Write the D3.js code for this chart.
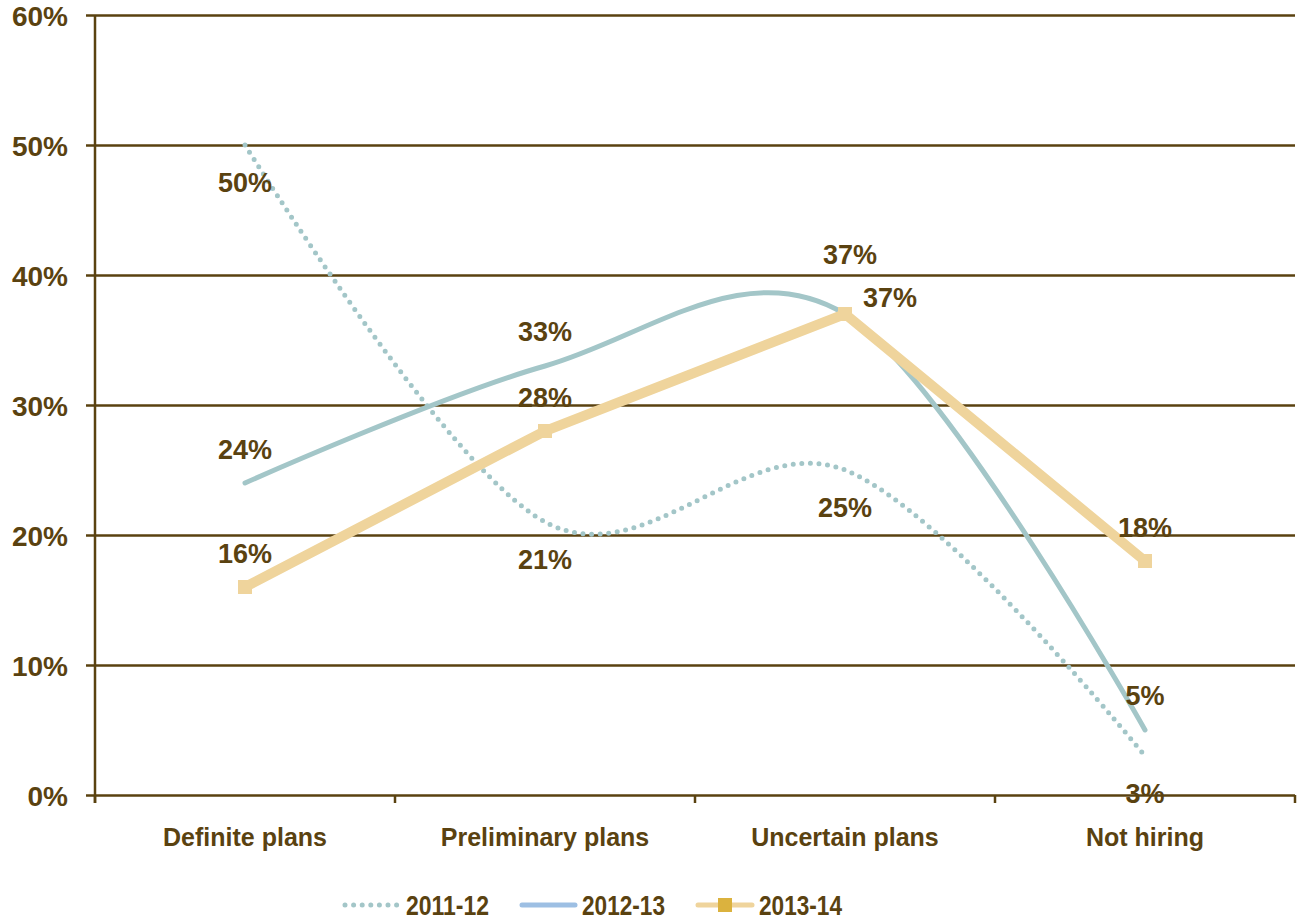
<!DOCTYPE html>
<html>
<head>
<meta charset="utf-8">
<script src="https://cdn.jsdelivr.net/npm/d3@7"></script>
<style>
  html, body { margin: 0; padding: 0; background: #fff; }
  svg text { font-family: "Liberation Sans", Arial, sans-serif; font-weight: bold; fill: #5a4210; }
</style>
</head>
<body>
<svg id="chart" width="1305" height="923"></svg>
<script>
// Hiring plans by year, share of respondents
const categories = ["Definite plans", "Preliminary plans", "Uncertain plans", "Not hiring"];
const s2011 = [0.50, 0.21, 0.25, 0.03];
const s2012 = [0.24, 0.33, 0.37, 0.05];
const s2013 = [0.16, 0.28, 0.37, 0.18];
const seriesNames = ["2011-12", "2012-13", "2013-14"];
const yTicks = [0, 0.1, 0.2, 0.3, 0.4, 0.5, 0.6];

// label placement per point: [dx, dy] relative to the point
const lab2011 = [[0, 37], [0, 37], [0, 37], [0, 37]];
const lab2012 = [[0, -34], [0, -35], [5, -60], [0, -35]];
const lab2013 = [[0, -34], [0, -34], [45, -17], [0, -34]];

const INK = "#5a4210";
const TEAL = "#a3c6c8";
const TAN = "#efd49c";

const svg = d3.select("#chart");
const mLeft = 95, mRight = 1295, mTop = 15, mBottom = 795;

const x = d3.scaleBand().domain(categories).range([mLeft, mRight]);
const y = d3.scaleLinear().domain([0, 0.6]).range([mBottom, mTop]);
const cx = d => x(d) + x.bandwidth() / 2;

// horizontal gridlines with short outward ticks
const yAxis = d3.axisLeft(y).tickValues(yTicks).tickFormat(d3.format(".0%"))
  .tickSize(-(mRight - mLeft)).tickPadding(27);
const gy = svg.append("g").attr("transform", `translate(${mLeft},0)`).call(yAxis);
gy.select(".domain").remove();
gy.selectAll(".tick line").attr("stroke", INK).attr("stroke-width", 2.5).attr("x1", -9);
gy.selectAll(".tick text").style("font-size", "28px").attr("dy", "0.36em");

// vertical axis line
svg.append("line").attr("x1", mLeft).attr("x2", mLeft).attr("y1", mTop).attr("y2", mBottom + 8)
  .attr("stroke", INK).attr("stroke-width", 2.5);

// category axis
const xAxis = d3.axisBottom(x).tickSize(0).tickPadding(0);
const gx = svg.append("g").attr("transform", `translate(0,${mBottom})`).call(xAxis);
gx.select(".domain").remove();
gx.selectAll(".tick text").style("font-size", "25px").attr("y", 0).attr("dy", "2.05em");

// category boundary ticks
const bounds = categories.map(c => x(c)).concat([mRight]);
svg.selectAll("line.xtick").data(bounds).join("line").attr("class", "xtick")
  .attr("x1", d => d).attr("x2", d => d).attr("y1", mBottom).attr("y2", mBottom + 8)
  .attr("stroke", INK).attr("stroke-width", 2.5);

const smooth = d3.line().x((d, i) => cx(categories[i])).y(d => y(d)).curve(d3.curveCatmullRom.alpha(0));
const straight = d3.line().x((d, i) => cx(categories[i])).y(d => y(d));

// 2011-12 dotted
svg.append("path").attr("d", smooth(s2011)).attr("fill", "none").attr("stroke", TEAL)
  .attr("stroke-width", 5).attr("stroke-linecap", "round").attr("stroke-dasharray", "0 8.6");
// 2012-13 solid
svg.append("path").attr("d", smooth(s2012)).attr("fill", "none").attr("stroke", TEAL)
  .attr("stroke-width", 5).attr("stroke-linecap", "round");
// 2013-14 thick with square markers
svg.append("path").attr("d", straight(s2013)).attr("fill", "none").attr("stroke", TAN)
  .attr("stroke-width", 10).attr("stroke-linejoin", "miter");
svg.selectAll("rect.m13").data(s2013).join("rect").attr("class", "m13")
  .attr("x", (d, i) => cx(categories[i]) - 7).attr("y", d => y(d) - 7)
  .attr("width", 14).attr("height", 14).attr("fill", TAN);

// value labels
function labels(vals, offs) {
  svg.append("g").selectAll("text").data(vals).join("text")
    .attr("x", (d, i) => cx(categories[i]) + offs[i][0])
    .attr("y", (d, i) => y(d) + offs[i][1])
    .attr("text-anchor", "middle").attr("dy", "0.36em")
    .style("font-size", "27px")
    .text(d => d3.format(".0%")(d));
}
labels(s2011, lab2011);
labels(s2012, lab2012);
labels(s2013, lab2013);

// legend
const leg = svg.append("g").attr("transform", "translate(0,905)");
leg.append("line").attr("x1", 345).attr("x2", 400).attr("stroke", TEAL).attr("stroke-width", 5)
  .attr("stroke-linecap", "round").attr("stroke-dasharray", "0 8.6");
leg.append("line").attr("x1", 522).attr("x2", 575).attr("stroke", "#9dbfe3").attr("stroke-width", 5)
  .attr("stroke-linecap", "round");
leg.append("line").attr("x1", 698).attr("x2", 752).attr("stroke", TAN).attr("stroke-width", 5)
  .attr("stroke-linecap", "round");
leg.append("rect").attr("x", 718).attr("y", -7).attr("width", 14).attr("height", 14).attr("fill", "#dbb23e");
const legX = [406, 582, 759];
leg.selectAll("text").data(seriesNames).join("text")
  .attr("x", (d, i) => legX[i]).attr("dy", "0.36em").style("font-size", "28px")
  .attr("textLength", 83).attr("lengthAdjust", "spacingAndGlyphs").text(d => d);
</script>
</body>
</html>
